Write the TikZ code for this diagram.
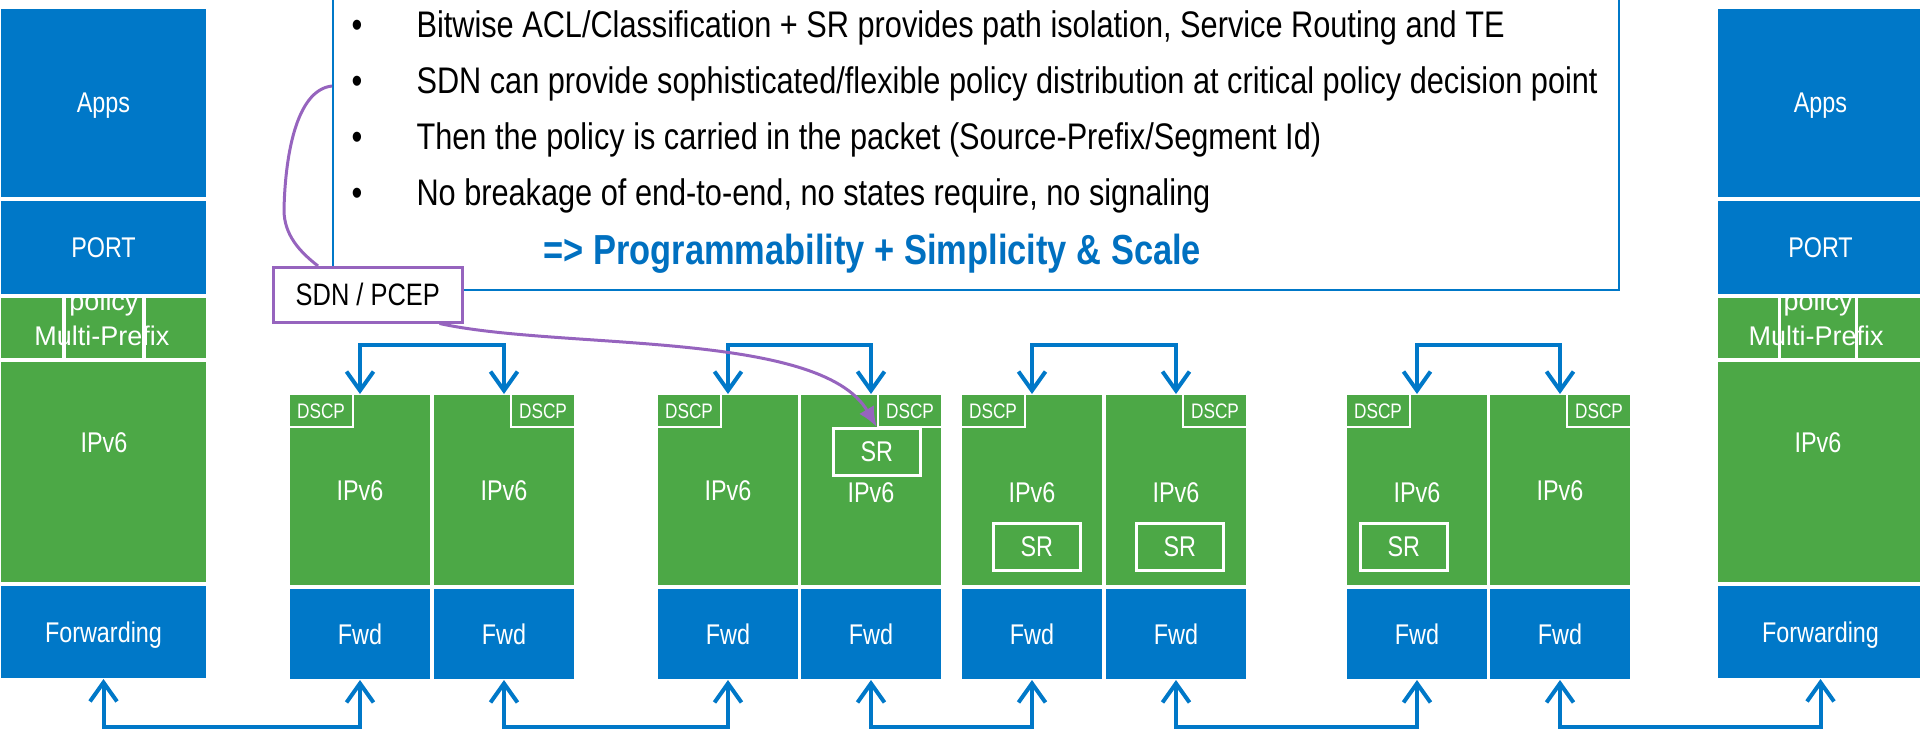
\documentclass[tikz,border=0pt]{standalone}
\usepackage{fontspec}
\setmainfont{Liberation Sans}[FakeStretch=0.82]
\newfontfamily\widesans{Liberation Sans}
\newfontfamily\bodysans{Liberation Sans}[FakeStretch=0.83]
\usetikzlibrary{arrows.meta,calc}

\definecolor{netblue}{HTML}{0078C8}
\definecolor{netgreen}{HTML}{4CA846}
\definecolor{ctlpurple}{HTML}{9664BE}
\definecolor{headblue}{HTML}{0070C0}

\newcommand\fsz[1]{\fontsize{#1}{#1}\selectfont}

\begin{document}
\begin{tikzpicture}[x=1pt,y=-1pt,
  layer/.style={draw=white, line width=2.5pt, inner sep=0pt, outer sep=0pt, text=white},
  bluebox/.style={layer, fill=netblue},
  greenbox/.style={layer, fill=netgreen},
  cell/.style={draw=white, line width=1.5pt, inner sep=0pt, outer sep=0pt, anchor=north west, minimum height=62pt},
  big/.style={font=\fsz{28.5}, text height=20pt, text depth=0pt},
  small/.style={font=\fsz{21}, text height=15pt, text depth=0pt},
  stackbox/.style={anchor=north west, minimum width=207pt},
  colg/.style={greenbox, big, anchor=north west, minimum width=142pt, minimum height=192pt},
  colf/.style={bluebox, big, anchor=north west, minimum width=142pt, minimum height=92pt},
  dscpl/.style={greenbox, small, anchor=north west, minimum width=64pt, minimum height=33pt},
  dscpr/.style={greenbox, small, anchor=north east, minimum width=64pt, minimum height=33pt},
  srbox/.style={draw=white, line width=2.5pt, inner sep=0pt, text=white, big, anchor=north west, minimum width=87pt, minimum height=47pt},
  link/.style={draw=netblue, line width=4pt,
    {Straight Barb[length=19pt,width=27pt]}-{Straight Barb[length=19pt,width=27pt]}},
  ctl/.style={draw=ctlpurple, line width=3pt},
  bullettext/.style={anchor=base west, font=\bodysans\fsz{37}},
  bulletdot/.style={anchor=base, font=\bodysans\fsz{37}}
]
\useasboundingbox (0,0) rectangle (1920,730);
\clip (0,0) rectangle (1920,730);

% ---------- statement box ----------
\node[draw=netblue, line width=2pt, fill=white, inner sep=0pt, anchor=north west,
      minimum width=1286pt, minimum height=309pt] (textbox) at (332,-20) {};
\node[bulletdot] (d1) at (357,37.5) {•};
\node[bulletdot] (d2) at (357,93.5) {•};
\node[bulletdot] (d3) at (357,149.5) {•};
\node[bulletdot] (d4) at (357,205.5) {•};
\node[bullettext] (t1) at (413,37.5) {Bitwise ACL/Classification + SR provides path isolation, Service Routing and TE};
\node[bullettext] (t2) at (413,93.5) {SDN can provide sophisticated/flexible policy distribution at critical policy decision point};
\node[bullettext] (t3) at (413,149.5) {Then the policy is carried in the packet (Source-Prefix/Segment Id)};
\node[bullettext] (t4) at (413,205.5) {No breakage of end-to-end, no states require, no signaling};
\node[anchor=base west, font=\bfseries\fsz{42}, text=headblue] (motto) at (540,265)
  {=> Programmability + Simplicity \& Scale};

% ---------- left host stack ----------
\node[greenbox, stackbox, minimum height=62pt] (lrow) at (0,297) {};
\node[anchor=base, text=white, font=\widesans\fsz{27}] (lpol) at (104,310) {policy};
\node[anchor=base, text=white, font=\widesans\fsz{27}] (lmp) at (102,345) {Multi-Prefix};
\node[cell, minimum width=63pt] (lc1) at (0,297) {};
\node[cell, minimum width=78pt] (lc2) at (65,297) {};
\node[cell, minimum width=62pt] (lc3) at (145,297) {};
\node[bluebox, big, stackbox, minimum height=190pt] (lapps) at (0,8) {Apps};
\node[bluebox, big, stackbox, minimum height=95pt] (lport) at (0,200) {PORT};
\node[greenbox, stackbox, minimum height=222pt] (lipv) at (0,361) {};
\node[big, text=white] (lipvt) at (104,442) {IPv6};
\node[bluebox, big, stackbox, minimum height=94pt] (lfwd) at (0,585) {Forwarding};

% ---------- right host stack ----------
\node[greenbox, stackbox, minimum height=62pt] (rrow) at (1717,297) {};
\node[anchor=base, text=white, font=\widesans\fsz{27}] (rpol) at (1818,310) {policy};
\node[anchor=base, text=white, font=\widesans\fsz{27}] (rmp) at (1816,345) {Multi-Prefix};
\node[cell, minimum width=62pt] (rc1) at (1717,297) {};
\node[cell, minimum width=76pt] (rc2) at (1780,297) {};
\node[cell, minimum width=66pt] (rc3) at (1857,297) {};
\node[bluebox, big, stackbox, minimum height=190pt] (rapps) at (1717,8) {Apps};
\node[bluebox, big, stackbox, minimum height=95pt] (rport) at (1717,200) {PORT};
\node[greenbox, stackbox, minimum height=222pt] (ripv) at (1717,361) {};
\node[big, text=white] (ripvt) at (1818,442) {IPv6};
\node[bluebox, big, stackbox, minimum height=94pt] (rfwd) at (1717,585) {Forwarding};

% ---------- router pairs ----------
% pair 1
\node[colg] (p1lg) at (289,394) {IPv6};
\node[colf] (p1lf) at (289,588) {Fwd};
\node[dscpl] (p1ld) at (289,394) {DSCP};
\node[colg] (p1rg) at (433,394) {IPv6};
\node[colf] (p1rf) at (433,588) {Fwd};
\node[dscpr] (p1rd) at (575,394) {DSCP};
% pair 2
\node[colg] (p2lg) at (657,394) {IPv6};
\node[colf] (p2lf) at (657,588) {Fwd};
\node[dscpl] (p2ld) at (657,394) {DSCP};
\node[greenbox, anchor=north west, minimum width=142pt, minimum height=192pt] (p2rg) at (800,394) {};
\node[big, text=white] (p2rt) at (871,492) {IPv6};
\node[colf] (p2rf) at (800,588) {Fwd};
\node[dscpr] (p2rd) at (942,394) {DSCP};
\node[srbox] (sr1) at (832,427) {SR};
% pair 3
\node[greenbox, anchor=north west, minimum width=142pt, minimum height=192pt] (p3lg) at (961,394) {};
\node[big, text=white] (p3lt) at (1032,492) {IPv6};
\node[colf] (p3lf) at (961,588) {Fwd};
\node[dscpl] (p3ld) at (961,394) {DSCP};
\node[srbox] (sr2) at (992,522) {SR};
\node[greenbox, anchor=north west, minimum width=142pt, minimum height=192pt] (p3rg) at (1105,394) {};
\node[big, text=white] (p3rt) at (1176,492) {IPv6};
\node[colf] (p3rf) at (1105,588) {Fwd};
\node[dscpr] (p3rd) at (1247,394) {DSCP};
\node[srbox] (sr3) at (1135,522) {SR};
% pair 4
\node[greenbox, anchor=north west, minimum width=142pt, minimum height=192pt] (p4lg) at (1346,394) {};
\node[big, text=white] (p4lt) at (1417,492) {IPv6};
\node[colf] (p4lf) at (1346,588) {Fwd};
\node[dscpl] (p4ld) at (1346,394) {DSCP};
\node[srbox] (sr4) at (1359,522) {SR};
\node[colg] (p4rg) at (1489,394) {IPv6};
\node[colf] (p4rf) at (1489,588) {Fwd};
\node[dscpr] (p4rd) at (1631,394) {DSCP};

% ---------- links ----------
\coordinate (upper) at (0,345);
\coordinate (lower) at (0,727);
\draw[link] (p1lg.north) -- (p1lg.north |- upper) -| (p1rg.north);
\draw[link] (p2lg.north) -- (p2lg.north |- upper) -| (p2rg.north);
\draw[link] (p3lg.north) -- (p3lg.north |- upper) -| (p3rg.north);
\draw[link] (p4lg.north) -- (p4lg.north |- upper) -| (p4rg.north);
\draw[link] (lfwd.south) -- (lfwd.south |- lower) -| (p1lf.south);
\draw[link] (p1rf.south) -- (p1rf.south |- lower) -| (p2lf.south);
\draw[link] (p2rf.south) -- (p2rf.south |- lower) -| (p3lf.south);
\draw[link] (p3rf.south) -- (p3rf.south |- lower) -| (p4lf.south);
\draw[link] (p4rf.south) -- (p4rf.south |- lower) -| (rfwd.south);

% ---------- controller ----------
\node[draw=ctlpurple, line width=2.5pt, fill=white, inner sep=0pt, anchor=north west,
      minimum width=189pt, minimum height=55pt, font=\fsz{31}, text height=22pt, text depth=0pt]
      (sdn) at (272,266) {SDN / PCEP};
\coordinate (tap) at (332,86);
\draw[ctl] (tap) .. controls (295,90) and (285,160) .. (284,210)
  .. controls (284,235) and (300,252) .. ($(sdn.north west)+(46,0)$);
\draw[ctl, -{Latex[length=20pt,width=17pt]}] ($(sdn.south east)+(-24,0)$)
  .. controls (560,350) and (820,330) .. (sr1.north);
\end{tikzpicture}
\end{document}
